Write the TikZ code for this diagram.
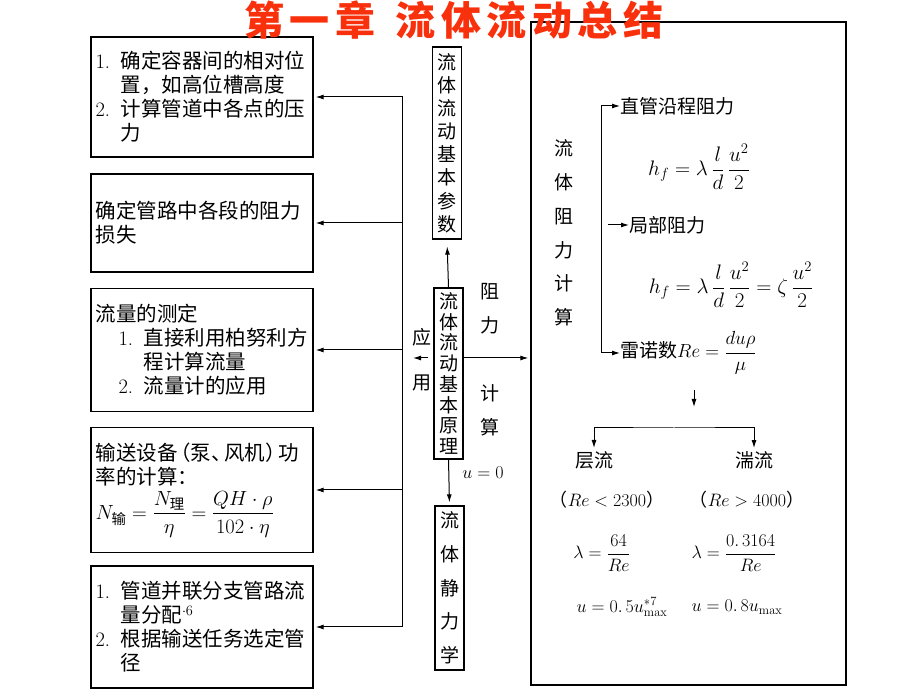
\RequirePackage{fix-cm}
\documentclass[tikz,border=0pt]{standalone}
\usepackage{amsmath}
\usepackage{fontspec}
\newfontfamily\cjk{Noto Sans CJK SC}
\newfontfamily\cjktitle[LetterSpace=14]{Noto Sans CJK SC}
\usepackage{tikz}
\usetikzlibrary{arrows.meta}
\definecolor{titlered}{RGB}{248,48,12}

% list numbers and hanging indent in the left boxes
\newcommand\nr[1]{\makebox[25pt][l]{\rmfamily #1}}
\newcommand\ind{\hspace*{25pt}}
% narrow full-width punctuation
\newcommand\lp{\makebox[13pt][r]{（}}
\newcommand\rp{\makebox[13pt][l]{）}}
\newcommand\dun{\makebox[13pt][l]{、}}

\begin{document}
\begin{tikzpicture}[x=1pt,y=1pt,>={Latex[length=8pt,width=5pt]},
    appbox/.style={draw, line width=1.3pt, text width=213pt, inner xsep=4.5pt, align=left,
        font=\cjk\fontsize{20.5}{24}\selectfont},
    colbox/.style={draw, line width=1.2pt, text width=19pt, inner xsep=5pt, inner ysep=2pt, align=center},
    lbl/.style={font=\cjk\fontsize{19}{22}\selectfont, inner sep=0pt},
    eq/.style={font=\cjk\fontsize{18}{20}\selectfont, inner sep=1pt},
    bigeq/.style={font=\fontsize{21}{24}\selectfont, inner sep=1pt},
    link/.style={line width=1pt}]
    \useasboundingbox (0,0) rectangle (920,690);

    % big box on the right
    \node[draw, line width=1.3pt, minimum width=315pt, minimum height=663pt, inner sep=0pt] (calc) at (688.5,336.5) {};

    % applications
    \node[appbox, minimum height=120pt] (pos) at (202,593) {\nr{1.}确定容器间的相对位\\ \ind 置，如高位槽高度\\ \nr{2.}计算管道中各点的压\\ \ind 力};
    \node[appbox, minimum height=98pt] (loss) at (202,467) {确定管路中各段的阻力\\损失};
    \node[appbox, minimum height=123pt] (flow) at (202,340) {流量的测定\\ \hspace*{23pt}\nr{1.}直接利用柏努利方\\ \hspace*{48pt}程计算流量\\ \hspace*{23pt}\nr{2.}流量计的应用};
    \node[appbox, minimum height=125pt] (power) at (202,200) {输送设备\lp 泵\dun 风机\rp 功\\率的计算：\\[4pt]
        $N_{\text{输}}=\dfrac{N_{\text{理}}}{\eta}=\dfrac{QH\cdot\rho}{102\cdot\eta}$};
    \node[appbox, minimum height=122pt] (pipe) at (202,63) {\nr{1.}管道并联分支管路流\\ \ind 量分配$^{\cdot 6}$\\ \nr{2.}根据输送任务选定管\\ \ind 径};

    % middle column
    \node[colbox, font=\cjk\fontsize{19}{23.15}\selectfont, minimum height=192pt] (param) at (447,547) {流\\体\\流\\动\\基\\本\\参\\数};
    \node[colbox, font=\cjk\fontsize{19}{20.7}\selectfont, minimum height=171pt] (theory) at (448.5,316.5) {流\\体\\流\\动\\基\\本\\原\\理};
    \node[colbox, font=\cjk\fontsize{19}{33.75}\selectfont, minimum height=164pt] (statics) at (449.5,102) {流\\体\\静\\力\\学};

    \draw[->, link, shorten >=7pt] (theory.north) -- (param.south);
    \draw[->, link, shorten >=3pt] (theory.south) -- (statics.north);

    % trunk to the application boxes
    \coordinate (tt) at (402,594);
    \coordinate (tb) at (402,63);
    \draw[link] (tt) -- (tb);
    \foreach \b in {pos,loss,flow,power,pipe}
        \draw[->, link, shorten >=2pt] (tt |- \b.east) -- (\b.east);

    \coordinate (split) at (448.5,332);
    \draw[->, link, shorten <=5pt, shorten >=11pt] (split -| theory.west) -- (split -| tt);
    \draw[->, link, shorten >=2pt] (split -| theory.east) -- (split -| calc.west);

    \node[lbl] (ying) at (422,353) {应};
    \node[lbl] (yong) at (422,307) {用};
    \node[lbl] (zu) at (490,398) {阻};
    \node[lbl] (li) at (490,365) {力};
    \node[lbl] (ji) at (490,297) {计};
    \node[lbl] (suan) at (490,263) {算};
    \node[eq] (ueq) at (483,217) {$u=0$};

    % resistance calculation
    \node[lbl, align=center, font=\cjk\fontsize{19}{33.8}\selectfont] (zlj) at (564,457) {流\\体\\阻\\力\\计\\算};
    \node[lbl, anchor=west] (straight) at (620,584) {直管沿程阻力};
    \node[lbl, anchor=west] (local) at (629,465) {局部阻力};
    \node[lbl, anchor=west] (reynolds) at (620,337) {雷诺数$Re=\dfrac{du\rho}{\mu}$};
    \coordinate (bb) at (601,337);
    \draw[<->, link] (straight.west) -| (bb) -- (reynolds.west);
    \draw[->, link] ([xshift=-21pt]local.west) -- (local.west);

    \node[bigeq] (hf1) at (699,523) {$h_f=\lambda\,\dfrac{l}{d}\,\dfrac{u^2}{2}$};
    \node[bigeq] (hf2) at (731,405) {$h_f=\lambda\,\dfrac{l}{d}\,\dfrac{u^2}{2}=\zeta\,\dfrac{u^2}{2}$};

    \coordinate (redown) at (694,300);
    \coordinate (fork) at (674,262);
    \draw[->, link] (redown) -- ++(0,-17);

    \node[lbl] (lam) at (594,230) {层流};
    \node[lbl] (turb) at (754,230) {湍流};
    \draw[<->, link, shorten <=3pt, shorten >=3pt] (lam.north) |- (fork) -| (turb.north);

    \node[eq] (lamre) at (607,190) {（$Re<2300$）};
    \node[eq] (turbre) at (747,190) {（$Re>4000$）};
    \node[eq] (lamlam) at (602,137) {$\lambda=\dfrac{64}{Re}$};
    \node[eq] (turblam) at (734,137) {$\lambda=\dfrac{0.\,3164}{Re}$};
    \node[eq] (lamu) at (622,83) {$u=0.\,5u_{\max}^{\ast 7}$};
    \node[eq] (turbu) at (737,83) {$u=0.\,8u_{\max}$};

    % title
    \node[font=\cjktitle\bfseries\fontsize{40}{44}\selectfont, text=titlered, inner sep=0pt] (title) at (454,670) {第一章\hspace{20pt}流体流动总结};
\end{tikzpicture}
\end{document}
